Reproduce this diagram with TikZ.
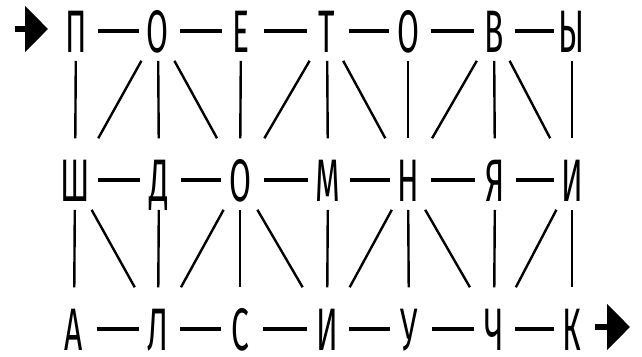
\documentclass[tikz,border=0pt]{standalone}
\usepackage{fontspec}
\usetikzlibrary{calc,arrows.meta}
\newfontfamily\lf{Fira Sans}[FakeStretch=0.53]
\newcommand\hcon[2]{\draw[hline] ($(#1)!0.27!(#2)$) -- ($(#1)!0.77!(#2)$);}
\newcommand\vcon[2]{\draw[vline] ($(#1)!0.2!(#2)$) -- ($(#1)!0.72!(#2)$);}
\tikzset{
  letter/.style={inner sep=0pt, text height=42pt, text depth=0pt,
    font=\lf\fontsize{60}{60}\selectfont},
  hline/.style={line width=3.6pt},
  vline/.style={line width=2.4pt},
  bigarrow/.style={line width=6pt, -{Triangle[length=23pt,width=45pt]}},
}
\begin{document}
\begin{tikzpicture}[x=1pt,y=-1pt]
\path[use as bounding box] (0,0) rectangle (642,356);
% row 1
\node[letter] (a1) at (76,31) {П};
\node[letter] (a2) at (158,31) {О};
\node[letter] (a3) at (241,31) {Е};
\node[letter] (a4) at (327,31) {Т};
\node[letter] (a5) at (408,31) {О};
\node[letter] (a6) at (494,31) {В};
\node[letter] (a7) at (572,31) {Ы};
% row 2
\node[letter] (b1) at (75,180) {Ш};
\node[letter] (b2) at (159,180) {Д};
\node[letter] (b3) at (240,180) {О};
\node[letter] (b4) at (328,180) {М};
\node[letter] (b5) at (408,180) {Н};
\node[letter] (b6) at (495,180) {Я};
\node[letter] (b7) at (572,180) {И};
% row 3
\node[letter] (c1) at (74,329) {А};
\node[letter] (c2) at (158,329) {Л};
\node[letter] (c3) at (240,329) {С};
\node[letter] (c4) at (327,329) {И};
\node[letter] (c5) at (409,329) {У};
\node[letter] (c6) at (494,329) {Ч};
\node[letter] (c7) at (572,329) {К};
% horizontal connectors
\hcon{a1}{a2}\hcon{a2}{a3}\hcon{a3}{a4}\hcon{a4}{a5}\hcon{a5}{a6}\hcon{a6}{a7}
\hcon{b1}{b2}\hcon{b2}{b3}\hcon{b3}{b4}\hcon{b4}{b5}\hcon{b5}{b6}\hcon{b6}{b7}
\hcon{c1}{c2}\hcon{c2}{c3}\hcon{c3}{c4}\hcon{c4}{c5}\hcon{c5}{c6}\hcon{c6}{c7}
% rows 1-2
\vcon{a1}{b1}\vcon{a2}{b2}\vcon{a3}{b3}\vcon{a4}{b4}\vcon{a5}{b5}\vcon{a6}{b6}\vcon{a7}{b7}
\vcon{a2}{b1}\vcon{a2}{b3}\vcon{a4}{b3}\vcon{a4}{b5}\vcon{a6}{b5}\vcon{a6}{b7}
% rows 2-3
\vcon{b1}{c1}\vcon{b2}{c2}\vcon{b3}{c3}\vcon{b4}{c4}\vcon{b5}{c5}\vcon{b6}{c6}\vcon{b7}{c7}
\vcon{b1}{c2}\vcon{b3}{c2}\vcon{b3}{c4}\vcon{b5}{c4}\vcon{b5}{c6}\vcon{b7}{c6}
% entry and exit arrows
\coordinate (ins) at (15,29);
\coordinate (inend) at (48,29);
\coordinate (outs) at (595,327);
\coordinate (outend) at (630,327);
\draw[bigarrow] (ins) -- (inend);
\draw[bigarrow] (outs) -- (outend);
\end{tikzpicture}
\end{document}
